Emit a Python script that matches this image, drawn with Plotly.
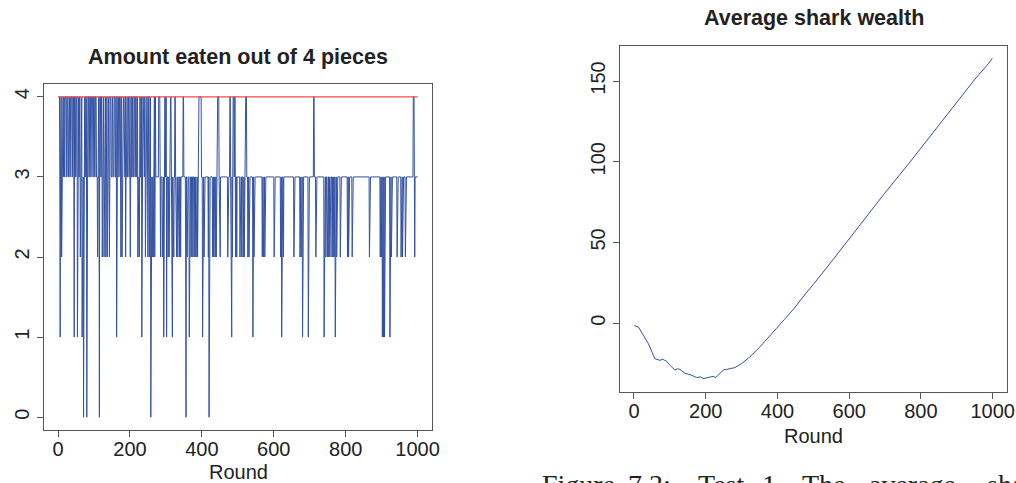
import plotly.graph_objects as go

# ---------------- data ----------------
ROUNDS_TOTAL = 1000
BASE_VALUE = 3          # most common amount eaten
MAX_PIECES = 4          # red reference line

# rounds (inclusive runs) in which all 4 pieces were eaten
FOUR_RUNS = [
    (1, 4), (8, 9), (12, 14), (16, 17), (20, 23), (26, 28), (30, 32), (35, 38),
    (41, 43), (46, 48), (51, 53), (56, 57), (60, 61), (64, 66), (72, 74), (77, 79),
    (83, 85), (88, 90), (93, 96), (99, 101), (104, 106), (111, 113), (116, 118),
    (121, 122), (125, 127), (130, 132), (134, 136), (139, 141), (145, 147),
    (151, 152), (156, 158), (161, 162), (166, 168), (171, 173), (176, 177),
    (181, 183), (187, 187), (191, 192), (196, 198), (202, 203), (206, 207),
    (211, 213), (216, 217), (220, 221), (227, 228), (231, 232), (236, 237),
    (241, 242), (247, 248), (252, 253), (256, 257), (266, 268), (270, 271),
    (280, 283), (296, 298), (300, 301), (312, 314), (325, 326), (348, 349),
    (392, 398), (443, 447), (478, 479), (487, 489), (491, 492), (520, 524),
    (711, 712), (988, 990),
]
TWO_ROUNDS = [
    10, 62, 110, 123, 128, 133, 137, 143, 175, 178, 188, 201, 222, 226, 243, 250,
    254, 262, 265, 269, 285, 290, 292, 306, 309, 320, 322, 328, 330, 333, 335, 338,
    341, 355, 359, 361, 370, 373, 378, 381, 384, 388, 390, 404, 406, 418, 430, 433,
    437, 440, 449, 451, 472, 481, 485, 494, 497, 506, 511, 515, 518, 528, 531, 545,
    568, 571, 575, 601, 619, 624, 627, 656, 673, 676, 678, 717, 742, 745, 748, 750,
    753, 756, 758, 762, 765, 768, 775, 785, 805, 808, 818, 866, 896, 899, 927, 943,
    954, 958, 966, 992,
]
ONE_ROUNDS = [
    6, 45, 54, 67, 69, 163, 233, 260, 294, 302, 318, 365, 402, 483, 542, 622, 680,
    696, 740, 771, 902, 905, 908, 923,
]
ZERO_ROUNDS = [71, 80, 115, 258, 356, 420]

WEALTH_ROUNDS = [
    1, 12, 26, 40, 58, 65, 72, 80, 91, 100, 114, 121, 128, 142, 161, 175, 185,
    193, 207, 221, 228, 249, 258, 267, 281, 300, 323, 351, 375, 397, 420, 444,
    481, 500, 550, 600, 650, 699, 763, 800, 850, 900, 950, 989, 999,
]
WEALTH_VALUES = [
    -1.5, -2.3, -7.4, -12.6, -21.9, -22.6, -23.0, -22.3, -23.6, -26.0, -29.0,
    -28.2, -28.6, -31.0, -32.2, -33.7, -33.2, -34.3, -33.7, -32.9, -33.7, -29.0,
    -28.6, -28.0, -27.5, -25.0, -20.9, -14.7, -9.0, -3.3, 2.5, 8.5, 19.0, 24.0,
    38.0, 52.5, 66.5, 80.5, 98.0, 108.5, 122.5, 137.0, 151.0, 161.0, 164.0,
]

X_TICKS = [0, 200, 400, 600, 800, 1000]
EATEN_Y_TICKS = [0, 1, 2, 3, 4]
WEALTH_Y_TICKS = [0, 50, 100, 150]

LEFT_TITLE = "Amount eaten out of 4 pieces"
RIGHT_TITLE = "Average shark wealth"
X_TITLE = "Round"
CAPTION_WORDS = ["Figure", "7.3:", "Test", "1.", "The", "average", "sha"]

# ---------------- build series ----------------
rounds = list(range(1, ROUNDS_TOTAL + 1))
eaten_map = {r: BASE_VALUE for r in rounds}
for a, b in FOUR_RUNS:
    for r in range(a, b + 1):
        eaten_map[r] = 4
for r in TWO_ROUNDS:
    eaten_map[r] = 2
for r in ONE_ROUNDS:
    eaten_map[r] = 1
for r in ZERO_ROUNDS:
    eaten_map[r] = 0
eaten = [eaten_map[r] for r in rounds]

# ---------------- layout geometry ----------------
W, H = 1016, 483
BLUE = "#3352a3"
RED = "#ee4b4b"
TXT = "#222222"
AX = "#555555"
FONT = "Liberation Sans, Arial, Helvetica, sans-serif"


def fx(p):
    return p / W


def fy(p):
    return 1 - p / H


fig = go.Figure()
fig.add_trace(go.Scatter(x=rounds, y=eaten, mode="lines",
                         line=dict(color=BLUE, width=1), xaxis="x", yaxis="y",
                         hoverinfo="skip", showlegend=False))
fig.add_trace(go.Scatter(x=[1, ROUNDS_TOTAL], y=[MAX_PIECES, MAX_PIECES], mode="lines",
                         line=dict(color=RED, width=1.2), xaxis="x", yaxis="y",
                         showlegend=False))
fig.add_trace(go.Scatter(x=WEALTH_ROUNDS, y=WEALTH_VALUES, mode="lines",
                         line=dict(color=BLUE, width=1), xaxis="x2", yaxis="y2",
                         showlegend=False))

axis_common = dict(showgrid=False, zeroline=False, showline=True, mirror=True,
                   linecolor=AX, linewidth=1, ticks="outside", ticklen=6,
                   tickwidth=1, tickcolor=AX, automargin=False,
                   tickfont=dict(family=FONT, size=20, color=TXT))
x_extra = dict(ticklabelstandoff=-5)

fig.update_layout(
    width=W, height=H, autosize=False,
    margin=dict(l=0, r=0, t=0, b=0, autoexpand=False),
    paper_bgcolor="white", plot_bgcolor="white",
    xaxis=dict(domain=[fx(44), fx(432)], range=[-39, 1040], tickvals=X_TICKS,
               anchor="y", **axis_common, **x_extra),
    yaxis=dict(domain=[fy(430), fy(84)], range=[-0.16, 4.16], tickvals=EATEN_Y_TICKS,
               tickangle=-90, anchor="x", **axis_common),
    xaxis2=dict(domain=[fx(620), fx(1007)], range=[-39, 1040], tickvals=X_TICKS,
                anchor="y2", **axis_common, **x_extra),
    yaxis2=dict(domain=[fy(392), fy(46)], range=[-42.6, 171.7], tickvals=WEALTH_Y_TICKS,
                tickangle=-90, anchor="x2", **axis_common),
)

ann = []
ann.append(dict(text="<b>" + LEFT_TITLE + "</b>", x=fx(238), y=fy(57),
                xref="paper", yref="paper", xanchor="center", yanchor="middle",
                showarrow=False, font=dict(family=FONT, size=21.5, color=TXT)))
ann.append(dict(text="<b>" + RIGHT_TITLE + "</b>", x=fx(813.5), y=fy(18),
                xref="paper", yref="paper", xanchor="center", yanchor="middle",
                showarrow=False, font=dict(family=FONT, size=21.5, color=TXT)))
ann.append(dict(text=X_TITLE, x=fx(238), y=fy(472), xref="paper", yref="paper",
                xanchor="center", yanchor="middle", showarrow=False,
                font=dict(family=FONT, size=20, color=TXT)))
ann.append(dict(text=X_TITLE, x=fx(813.5), y=fy(436), xref="paper", yref="paper",
                xanchor="center", yanchor="middle", showarrow=False,
                font=dict(family=FONT, size=20, color=TXT)))

CAPTION_X = [540, 626, 696, 760, 800, 867, 985]
for word, xp in zip(CAPTION_WORDS, CAPTION_X):
    ann.append(dict(text=word, x=fx(xp), y=fy(467), xref="paper", yref="paper",
                    xanchor="left", yanchor="top", showarrow=False,
                    font=dict(family="Liberation Serif, DejaVu Serif, serif",
                              size=28, color=TXT)))

fig.update_layout(annotations=ann)
fig.write_html("out.html", config={"displayModeBar": False},
               post_script="document.body.style.margin='0';")
